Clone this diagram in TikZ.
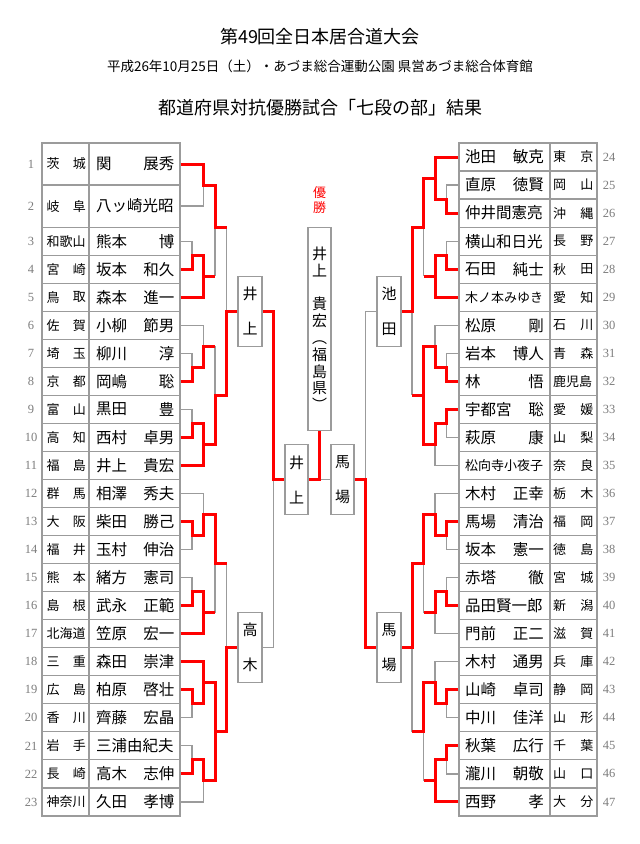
\documentclass[tikz,border=0pt]{standalone}
\usepackage{fontspec}
\setmainfont{Noto Sans CJK JP}
\newfontfamily\numfont{Liberation Serif}
\definecolor{lg}{RGB}{155,155,155}
\definecolor{rd}{RGB}{255,0,0}
\definecolor{ng}{RGB}{125,125,125}
\tikzset{
  cell/.style={draw=lg, line width=1.2pt, inner sep=0pt},
  num/.style={font=\numfont\fontsize{12.5}{12.5}\selectfont, text=ng, inner sep=0pt},
  pf/.style={font=\fontsize{13}{13}\selectfont, inner sep=0pt},
  nm/.style={font=\fontsize{15.5}{15.5}\selectfont, inner sep=0pt},
  win/.style={draw=rd, line width=3pt},
  lose/.style={draw=lg, line width=1.2pt},
  vbox/.style={draw=lg, line width=1.2pt, fill=white, inner sep=0pt, align=center,
    minimum width=23pt, minimum height=70.1pt, font=\fontsize{15}{35}\selectfont},
}
\newcommand\lrow[7]{%
  \node[cell, minimum width=47pt, minimum height=#3pt] (LP#1) at (65.5,#2) {};
  \node[cell, minimum width=91pt, minimum height=#3pt] (L#1) at (134.5,#2) {};
  \node[num] (LN#1) at (31,#2) {#1};
  \node[pf, anchor=west] (LPa#1) at (46.5,#2) {#4};
  \node[pf, anchor=east] (LPb#1) at (86,#2) {#5};
  \node[nm, anchor=west] (LNa#1) at (96,#2) {#6};
  \node[nm, anchor=east] (LNb#1) at (174.5,#2) {#7};
}
\newcommand\rrow[6]{%
  \node[cell, minimum width=91pt, minimum height=28.04pt] (R#1) at (504.5,#2) {};
  \node[cell, minimum width=47pt, minimum height=28.04pt] (RP#1) at (573.5,#2) {};
  \node[num] (RN#1) at (609,#2) {#1};
  \node[nm, anchor=west] (RNa#1) at (465,#2) {#3};
  \node[nm, anchor=east] (RNb#1) at (544,#2) {#4};
  \node[pf, anchor=west] (RPa#1) at (553,#2) {#5};
  \node[pf, anchor=east] (RPb#1) at (593.5,#2) {#6};
}
\begin{document}
\begin{tikzpicture}[x=1pt,y=-1pt]
\path[use as bounding box, fill=white] (0,0) rectangle (640,844);
\node[font=\fontsize{18}{18}\selectfont] (title) at (320,37) {第49回全日本居合道大会};
\node[font=\fontsize{13.5}{13.5}\selectfont] (sub) at (320,66) {平成26年10月25日（土）・あづま総合運動公園 県営あづま総合体育館};
\node[font=\fontsize{18}{18}\selectfont] (head) at (320,108) {都道府県対抗優勝試合「七段の部」結果};

\begin{scope}[shift={(0,143)}, y=-28.04pt]
\lrow{1}{0.75}{42.06}{茨}{城}{関}{展秀}
\lrow{2}{2.25}{42.06}{岐}{阜}{八ッ崎光昭}{}
\lrow{3}{3.5}{28.04}{和歌山}{}{熊本}{博}
\lrow{4}{4.5}{28.04}{宮}{崎}{坂本}{和久}
\lrow{5}{5.5}{28.04}{鳥}{取}{森本}{進一}
\lrow{6}{6.5}{28.04}{佐}{賀}{小柳}{節男}
\lrow{7}{7.5}{28.04}{埼}{玉}{柳川}{淳}
\lrow{8}{8.5}{28.04}{京}{都}{岡嶋}{聡}
\lrow{9}{9.5}{28.04}{富}{山}{黒田}{豊}
\lrow{10}{10.5}{28.04}{高}{知}{西村}{卓男}
\lrow{11}{11.5}{28.04}{福}{島}{井上}{貴宏}
\lrow{12}{12.5}{28.04}{群}{馬}{相澤}{秀夫}
\lrow{13}{13.5}{28.04}{大}{阪}{柴田}{勝己}
\lrow{14}{14.5}{28.04}{福}{井}{玉村}{伸治}
\lrow{15}{15.5}{28.04}{熊}{本}{緒方}{憲司}
\lrow{16}{16.5}{28.04}{島}{根}{武永}{正範}
\lrow{17}{17.5}{28.04}{北海道}{}{笠原}{宏一}
\lrow{18}{18.5}{28.04}{三}{重}{森田}{崇津}
\lrow{19}{19.5}{28.04}{広}{島}{柏原}{啓壮}
\lrow{20}{20.5}{28.04}{香}{川}{齊藤}{宏晶}
\lrow{21}{21.5}{28.04}{岩}{手}{三浦由紀夫}{}
\lrow{22}{22.5}{28.04}{長}{崎}{高木}{志伸}
\lrow{23}{23.5}{28.04}{神奈川}{}{久田}{孝博}

\rrow{24}{0.5}{池田}{敏克}{東}{京}
\rrow{25}{1.5}{直原}{徳賢}{岡}{山}
\rrow{26}{2.5}{仲井間憲亮}{}{沖}{縄}
\rrow{27}{3.5}{横山和日光}{}{長}{野}
\rrow{28}{4.5}{石田}{純士}{秋}{田}
\rrow{29}{5.5}{\fontsize{13}{13}\selectfont 木ノ本みゆき}{}{愛}{知}
\rrow{30}{6.5}{松原}{剛}{石}{川}
\rrow{31}{7.5}{岩本}{博人}{青}{森}
\rrow{32}{8.5}{林}{悟}{鹿児島}{}
\rrow{33}{9.5}{宇都宮}{聡}{愛}{媛}
\rrow{34}{10.5}{萩原}{康}{山}{梨}
\rrow{35}{11.5}{\fontsize{13}{13}\selectfont 松向寺小夜子}{}{奈}{良}
\rrow{36}{12.5}{木村}{正幸}{栃}{木}
\rrow{37}{13.5}{馬場}{清治}{福}{岡}
\rrow{38}{14.5}{坂本}{憲一}{徳}{島}
\rrow{39}{15.5}{赤塔}{徹}{宮}{城}
\rrow{40}{16.5}{品田賢一郎}{}{新}{潟}
\rrow{41}{17.5}{門前}{正二}{滋}{賀}
\rrow{42}{18.5}{木村}{通男}{兵}{庫}
\rrow{43}{19.5}{山崎}{卓司}{静}{岡}
\rrow{44}{20.5}{中川}{佳洋}{山}{形}
\rrow{45}{21.5}{秋葉}{広行}{千}{葉}
\rrow{46}{22.5}{瀧川}{朝敬}{山}{口}
\rrow{47}{23.5}{西野}{孝}{大}{分}

% boxes
\node[vbox, minimum width=24pt] (Q1) at (250,6) {井\\上};
\node[vbox, minimum width=24pt] (Q2) at (250,18) {高\\木};
\node[vbox, minimum width=24pt] (Q3) at (389,6) {池\\田};
\node[vbox, minimum width=24pt] (Q4) at (389,18) {馬\\場};
\node[vbox] (S1) at (296.5,12) {井\\上};
\node[vbox] (S2) at (342.5,12) {馬\\場};
\node[vbox, minimum height=203.3pt, font=\fontsize{15}{16.8}\selectfont] (F) at (319.5,6.625)
  {井\\上\\\mbox{}\\貴\\宏\\︵\\福\\島\\県\\︶};
\node[text=rd, align=center, inner sep=0pt, font=\fontsize{13}{15}\selectfont] (yusho) at (319.5,2.05) {優\\勝};

% losing (gray) lines
\draw[lose] (L2.east) -| (203.5,1.5);
\draw[lose] (L3.east) -| (192,4);
\draw[lose] (215,3) -- (215,4.75);
\draw[lose] (226.5,3) -- (226.5,6);
\draw[lose] (L6.east) -| (203.5,7.25);
\draw[lose] (L7.east) -| (192,8);
\draw[lose] (215,7.25) -- (215,9);
\draw[lose] (L9.east) -| (192,10);
\draw[lose] (L12.east) -| (203.5,13.25);
\draw[lose] (L14.east) -| (192,14);
\draw[lose] (L15.east) -| (192,16);
\draw[lose] (215,15) -- (215,16.75);
\draw[lose] (226.5,15) -- (226.5,18);
\draw[lose] (L20.east) -| (192,20);
\draw[lose] (L21.east) -| (192,22);
\draw[lose] (L23.east) -| (203.5,22.75);
\draw[lose] (Q2.east) -| (273.5,12);
\draw[lose] (S1.east -| F.south) -- (S2.west);
\draw[lose] (Q3.west) -| (365.5,12);
\draw[lose] (R25.west) -| (446.5,2);
\draw[lose] (R27.west) -| (446.5,4);
\draw[lose] (423.5,3) -- (423.5,4.75);
\draw[lose] (412,6) -- (412,9);
\draw[lose] (R30.west) -| (435,7.25);
\draw[lose] (R31.west) -| (446.5,8);
\draw[lose] (R34.west) -| (446.5,10);
\draw[lose] (R35.west) -| (435,10.75);
\draw[lose] (R36.west) -| (435,13.25);
\draw[lose] (R38.west) -| (446.5,14);
\draw[lose] (R39.west) -| (446.5,16);
\draw[lose] (423.5,15) -- (423.5,16.75);
\draw[lose] (R41.west) -| (435,16.75);
\draw[lose] (412,18) -- (412,21);
\draw[lose] (R42.west) -| (435,19.25);
\draw[lose] (R44.west) -| (446.5,20);
\draw[lose] (R46.west) -| (446.5,22);
\draw[lose] (423.5,21) -- (423.5,22.75);

% winning (red) lines, left
\draw[win] (L1.east) -| (203.5,1.5) -| (215,3) -- (226.5,3);
\draw[win] (L4.east) -| (192,4) -| (203.5,4.75) -- (215,4.75);
\draw[win] (L5.east) -| (203.5,4.75);
\draw[win] (L8.east) -| (192,8) -| (203.5,7.25) -- (215,7.25);
\draw[win] (L10.east) -| (192,10) -| (203.5,10.75);
\draw[win] (L11.east) -| (203.5,10.75) -| (215,9) -| (226.5,6) -- (Q1.west);
\draw[win] (Q1.east) -| (273.5,12) -- (S1.west);
\draw[win] (L13.east) -| (192,14) -| (203.5,13.25) -| (215,15) -- (226.5,15);
\draw[win] (L16.east) -| (192,16) -| (203.5,16.75) -- (215,16.75);
\draw[win] (L17.east) -| (203.5,16.75);
\draw[win] (L18.east) -| (203.5,19.25) -| (215,21);
\draw[win] (L19.east) -| (192,20) -| (203.5,19.25);
\draw[win] (L22.east) -| (192,22) -| (203.5,22.75) -| (215,21) -| (226.5,18) -- (Q2.west);
% centre
\draw[win] (S1.east) -| (F.south);
\draw[win] (S2.east) -| (365.5,18) -- (Q4.west);
% right
\draw[win] (R24.west) -| (435,1.25) -| (423.5,3) -| (412,6) -- (Q3.east);
\draw[win] (R26.west) -| (446.5,2) -| (435,1.25);
\draw[win] (R28.west) -| (446.5,4) -| (435,4.75) -- (423.5,4.75);
\draw[win] (R29.west) -| (435,4.75);
\draw[win] (R32.west) -| (446.5,8) -| (435,7.25) -| (423.5,9) -- (412,9);
\draw[win] (R33.west) -| (446.5,10) -| (435,10.75) -| (423.5,9);
\draw[win] (R37.west) -| (446.5,14) -| (435,13.25) -| (423.5,15) -| (412,18) -- (Q4.east);
\draw[win] (R40.west) -| (446.5,16) -| (435,16.75) -- (423.5,16.75);
\draw[win] (R43.west) -| (446.5,20) -| (435,19.25) -| (423.5,21) -- (412,21);
\draw[win] (R45.west) -| (446.5,22) -| (435,22.75) -- (423.5,22.75);
\draw[win] (R47.west) -| (435,22.75);
\end{scope}
\end{tikzpicture}
\end{document}
